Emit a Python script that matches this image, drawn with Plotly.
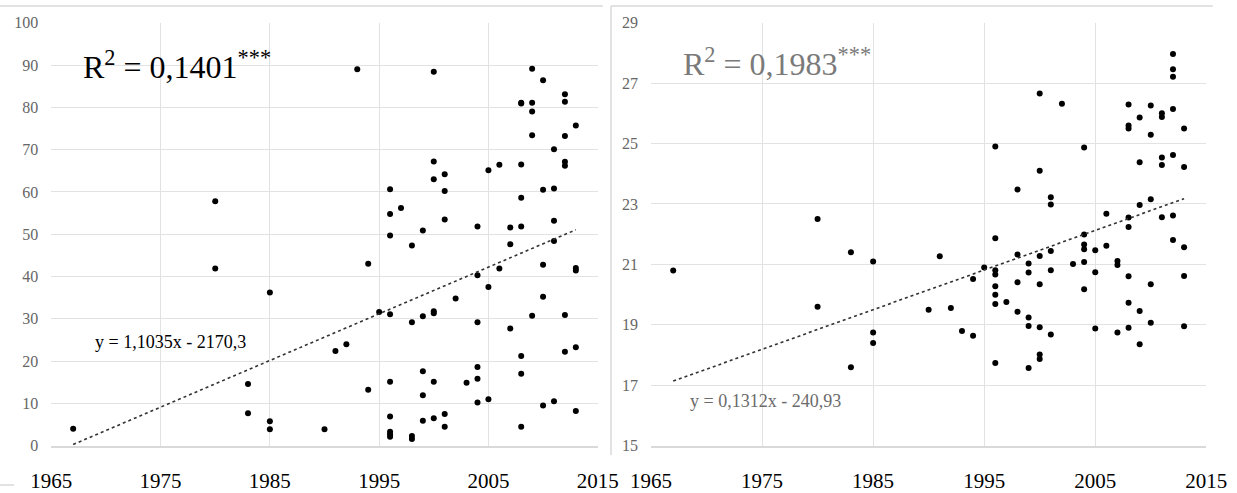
import plotly.graph_objects as go

W, H = 1237, 493

# ---------------- data ----------------
left_years = [1967, 1980, 1980, 1983, 1983, 1985, 1985, 1985, 1990, 1991, 1992, 1993,
              1994, 1994, 1995,
              1996, 1996, 1996, 1996, 1996, 1996, 1996, 1996, 1996,
              1997, 1998, 1998, 1998, 1998,
              1999, 1999, 1999, 1999, 1999,
              2000, 2000, 2000, 2000, 2000, 2000, 2000,
              2001, 2001, 2001, 2001, 2001,
              2002, 2003,
              2004, 2004, 2004, 2004, 2004, 2004,
              2005, 2005, 2005, 2006, 2006, 2007, 2007, 2007,
              2008, 2008, 2008, 2008, 2008, 2008, 2008, 2008,
              2009, 2009, 2009, 2009, 2009,
              2010, 2010, 2010, 2010, 2010,
              2011, 2011, 2011, 2011, 2011,
              2012, 2012, 2012, 2012, 2012, 2012, 2012,
              2013, 2013, 2013, 2013, 2013]
left_values = [4.0, 57.8, 41.9, 14.6, 7.7, 36.2, 5.8, 3.9, 3.9, 22.4, 24.0, 89.0,
               43.0, 13.2, 31.6,
               60.6, 54.8, 49.7, 31.1, 15.1, 6.9, 3.3, 2.7, 2.1,
               56.2, 47.3, 29.2, 2.3, 1.6,
               50.9, 30.6, 17.6, 11.9, 5.9,
               88.4, 67.2, 63.0, 31.8, 31.3, 15.1, 6.5,
               64.2, 60.2, 53.5, 7.5, 4.5,
               34.8, 14.9,
               51.8, 40.3, 29.2, 18.6, 15.8, 10.2,
               65.1, 37.5, 11.0, 66.4, 41.9, 51.6, 47.6, 27.7,
               81.1, 80.9, 66.5, 58.6, 51.8, 21.2, 17.0, 4.5,
               89.1, 81.1, 79.0, 73.4, 30.7,
               86.4, 60.5, 42.8, 35.2, 9.5,
               70.1, 60.8, 53.2, 48.4, 10.5,
               83.1, 81.3, 73.2, 67.1, 66.2, 30.9, 22.2,
               75.7, 42.0, 41.4, 23.3, 8.2]

right_years = [1967, 1980, 1980, 1983, 1983, 1985, 1985, 1985, 1990, 1991, 1992, 1993,
               1994, 1994, 1995,
               1996, 1996, 1996, 1996, 1996, 1996, 1996, 1996,
               1997, 1998, 1998, 1998, 1998,
               1999, 1999, 1999, 1999, 1999,
               2000, 2000, 2000, 2000, 2000, 2000, 2000,
               2001, 2001, 2001, 2001, 2001,
               2002, 2003,
               2004, 2004, 2004, 2004, 2004, 2004,
               2005, 2005, 2005, 2006, 2006, 2007, 2007, 2007,
               2008, 2008, 2008, 2008, 2008, 2008, 2008, 2008,
               2009, 2009, 2009, 2009, 2009,
               2010, 2010, 2010, 2010, 2010,
               2011, 2011, 2011, 2011, 2011,
               2012, 2012, 2012, 2012, 2012, 2012, 2012,
               2013, 2013, 2013, 2013, 2013]
right_values = [20.8, 22.5, 19.6, 21.4, 17.6, 21.1, 18.75, 18.4, 19.5, 21.27, 19.56, 18.8,
                20.52, 18.64, 20.9,
                24.9, 21.87, 20.81, 20.67, 20.28, 20.0, 19.69, 17.74,
                19.76, 23.48, 21.33, 20.41, 19.43,
                21.03, 20.73, 19.24, 18.96, 17.57,
                26.66, 24.1, 21.28, 20.34, 18.92, 18.02, 17.87,
                23.22, 22.98, 21.44, 20.81, 18.68,
                26.32, 21.01,
                24.87, 21.99, 21.66, 21.5, 21.08, 20.18,
                21.47, 20.74, 18.88, 22.68, 21.62, 21.11, 20.98, 18.75,
                26.29, 25.6, 25.5, 22.55, 22.24, 20.61, 19.73, 18.9,
                25.86, 24.38, 22.97, 19.46, 18.36,
                26.26, 25.29, 23.16, 20.34, 19.07,
                26.0, 25.88, 24.54, 24.29, 22.56,
                27.96, 27.46, 27.21, 26.14, 24.62, 22.62, 21.81,
                25.5, 24.22, 21.57, 20.62, 18.95]

# trend lines (slope, intercept) as printed on the chart, fitted over the year span
left_slope, left_intercept = 1.1035, -2170.3
right_slope, right_intercept = 0.1312, -240.93
trend_years = [1967, 2013]

x_ticks = [1965, 1975, 1985, 1995, 2005, 2015]
left_y_ticks = list(range(0, 101, 10))
right_y_ticks = list(range(15, 30, 2))

left_r2_text = "R<sup>2</sup> = 0,1401<sup>***</sup>"
right_r2_text = "R<sup>2</sup> = 0,1983<sup>***</sup>"
left_eq_text = "y = 1,1035x - 2170,3"
right_eq_text = "y = 0,1312x - 240,93"

# ---------------- helpers ----------------
def px(x):
    return x / W

def py(y):
    return 1 - y / H

FONT = "Liberation Serif, Times New Roman, serif"
GRID = "#e2e2e2"
GRAY_TXT = "#666666"

fig = go.Figure()

fig.add_trace(go.Scatter(x=left_years, y=left_values, mode="markers",
                         marker=dict(color="black", size=6), xaxis="x", yaxis="y",
                         showlegend=False))
fig.add_trace(go.Scatter(x=trend_years,
                         y=[left_slope * t + left_intercept for t in trend_years],
                         mode="lines", line=dict(color="#333333", width=1.6, dash="dot"),
                         xaxis="x", yaxis="y", showlegend=False))
fig.add_trace(go.Scatter(x=right_years, y=right_values, mode="markers",
                         marker=dict(color="black", size=6), xaxis="x2", yaxis="y2",
                         showlegend=False))
fig.add_trace(go.Scatter(x=trend_years,
                         y=[right_slope * t + right_intercept for t in trend_years],
                         mode="lines", line=dict(color="#333333", width=1.6, dash="dot"),
                         xaxis="x2", yaxis="y2", showlegend=False))

xcommon = dict(range=[1965, 2015], tickvals=x_ticks, showgrid=True, gridcolor=GRID,
               gridwidth=1, zeroline=False, showline=True, linecolor="#d9d9d9", linewidth=2,
               tickfont=dict(family=FONT, size=21, color="black"), ticks="",
               ticklabelstandoff=15, automargin=False, fixedrange=True)
ycommon = dict(showgrid=True, gridcolor=GRID, gridwidth=1, zeroline=False,
               showline=False, ticks="", ticklabelstandoff=12, automargin=False,
               tickfont=dict(family=FONT, size=16, color=GRAY_TXT), fixedrange=True)

ydom = [py(445.7), py(22.7)]

fig.update_layout(
    width=W, height=H,
    margin=dict(l=0, r=0, t=0, b=0, pad=0),
    paper_bgcolor="white", plot_bgcolor="white",
    xaxis=dict(domain=[px(51.3), px(597.7)], anchor="y", **xcommon),
    yaxis=dict(domain=ydom, anchor="x", range=[0, 100], tickvals=left_y_ticks, **ycommon),
    xaxis2=dict(domain=[px(651), px(1206.3)], anchor="y2", **xcommon),
    yaxis2=dict(domain=ydom, anchor="x2", range=[15, 29], tickvals=right_y_ticks, **ycommon),
    showlegend=False,
)

annots = [
    dict(text=left_r2_text, x=px(81), y=py(65), color="black", size=32),
    dict(text=right_r2_text, x=px(681), y=py(62), color="#7a7a7a", size=32),
    dict(text=left_eq_text, x=px(93), y=py(342), color="black", size=18),
    dict(text=right_eq_text, x=px(688), y=py(401), color="#6b6b6b", size=18),
]
for a in annots:
    fig.add_annotation(text=a["text"], x=a["x"], y=a["y"], xref="paper", yref="paper",
                       xanchor="left", yanchor="middle", showarrow=False,
                       font=dict(family=FONT, size=a["size"], color=a["color"]))

# chart-frame remnants
frame = [
    (0, 6, 602.7, 6),
    (611, 6, 1212.7, 6),
    (611, 6, 611, 455),
    (0, 485, 14, 485),
]
for x0, y0, x1, y1 in frame:
    fig.add_shape(type="line", xref="paper", yref="paper",
                  x0=px(x0), y0=py(y0), x1=px(x1), y1=py(y1),
                  line=dict(color="#d9d9d9", width=1.5))

fig.write_html("out.html", config={"displayModeBar": False},
               post_script="document.body.style.margin='0';document.body.style.overflow='hidden';")
